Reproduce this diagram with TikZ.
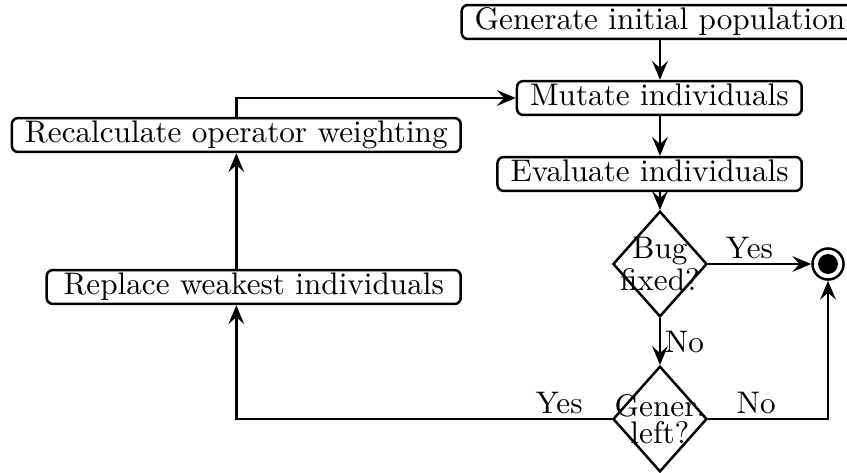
\documentclass[tikz,border=0pt]{standalone}
\usepackage{tikz}
\usetikzlibrary{shapes.geometric,arrows.meta,positioning,calc}

\tikzset{
  stepbox/.style={draw, thick, rounded corners=2pt, inner xsep=4.2pt, inner ysep=1pt,
    text height=6.94pt, text depth=1.94pt},
  widebox/.style={stepbox, inner xsep=5.4pt},
  decision/.style={diamond, draw, thick, minimum width=1.06cm, minimum height=1.19cm,
    inner xsep=-8pt, inner ysep=-6pt, align=center, font=\fontsize{10}{8.65}\selectfont},
  endpoint/.style={circle, draw, thick, minimum size=0.35cm, inner sep=0pt,
    path picture={\fill (path picture bounding box.center) circle (0.112cm);}},
  edgelabel/.style={inner sep=1.2pt},
  flow/.style={-{Stealth[length=6pt, width=5pt, inset=2.2pt]}, thick}
}

\begin{document}
\begin{tikzpicture}
    \useasboundingbox (0,0) rectangle (9.541,5.328);

    % main column
    \node[stepbox] (generate) at (7.434,5.080) {Generate initial population};
    \node[stepbox, anchor=east] (mutate) at (9.045,4.224) {Mutate individuals};
    \node[stepbox, anchor=east] (evaluate) at (9.045,3.368) {Evaluate individuals};
    \node[decision] (bugfixed) at (7.434,2.354) {Bug\\fixed?};
    \node[decision] (generleft) at (7.434,0.608) {Gener.\\left?};
    \node[endpoint] (done) at (9.327,2.354) {};

    % left column
    \node[stepbox, anchor=east] (recalc) at (5.204,3.807) {Recalculate operator weighting};
    \node[widebox, anchor=east] (replace) at (5.204,2.095) {Replace weakest individuals};

    % connectors
    \draw[flow] (generate) -- (generate |- mutate.north);
    \draw[flow] (generate |- mutate.south) -- (generate |- evaluate.north);
    \draw[flow] (generate |- evaluate.south) -- (bugfixed.north);
    \draw[flow] (bugfixed) -- node[edgelabel, above, pos=0.4] {Yes} (done);
    \draw[flow] (bugfixed) -- node[edgelabel, right] {No} (generleft);
    \draw[flow] (generleft) -| node[edgelabel, above, pos=0.2] {No} (done);
    \draw[flow] (generleft) -| node[edgelabel, above, pos=0.07] {Yes} (recalc |- replace.south);
    \draw[flow] (recalc |- replace.north) -- (recalc);
    \draw[flow] (recalc) |- (mutate);
\end{tikzpicture}
\end{document}
